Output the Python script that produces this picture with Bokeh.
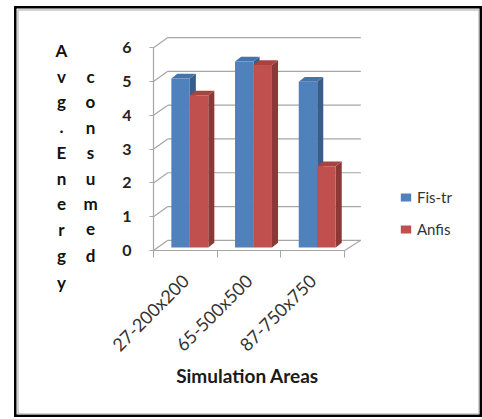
import math
from bokeh.plotting import figure
from bokeh.models import FixedTicker, Label, Legend, LegendItem
from bokeh.embed import file_html
from bokeh.resources import INLINE

categories = ["27-200x200", "65-500x500", "87-750x750"]
fis_tr = [5.0, 5.5, 4.9]
anfis = [4.5, 5.4, 2.4]
series_names = ["Fis-tr", "Anfis"]
y_ticks = [0, 1, 2, 3, 4, 5, 6]

front_colors = ["#4F81BD", "#C0504D"]
side_colors = ["#385D8A", "#8C3836"]
top_colors = ["#4573AE", "#A9433F"]

FONT = "Lato"
n = len(categories)
DX, DY = 0.225, 0.30        # wall depth (data units)
BDX, BDY = 0.095, 0.14      # bar depth
BW = 0.29                   # bar width
B0 = 0.09                   # bar base

# page-pixel layout helpers (frame spans the whole canvas)
X0, SX = 153, 63.7   # page x of data x=0, px per unit
Y0, SY = 250, 33.8   # page y of data y=0, px per unit
FL, FR, FT, FB = 14, 482, 6, 417   # canvas/frame edges on page
W, H = FR - FL, FB - FT


def px_to_x(px):
    return (px - X0) / SX


def py_to_y(py):
    return (Y0 - py) / SY


p = figure(width=W, height=H,
           x_range=(px_to_x(FL), px_to_x(FR)), y_range=(py_to_y(FB), py_to_y(FT)),
           output_backend="svg", toolbar_location=None, title=None,
           min_border_left=0, min_border_right=0, min_border_top=0,
           min_border_bottom=0)
p.styles = {"margin-left": "%dpx" % FL, "margin-top": "%dpx" % FT}
p.xgrid.visible = False
p.ygrid.visible = False
p.outline_line_color = "#000000"
p.outline_line_width = 4
p.background_fill_color = "white"
p.border_fill_color = "white"

# inner thin grey frame line (decoration)
ix0, ix1 = px_to_x(FL + 3.5), px_to_x(FR - 3.5)
iy0, iy1 = py_to_y(FB - 3.5), py_to_y(FT + 3.5)
p.line(x=[ix0, ix1, ix1, ix0, ix0], y=[iy0, iy0, iy1, iy1, iy0],
       line_color="#a8a8a8", line_width=1)

grid_col = "#a6a6a6"
# back wall gridlines
p.multi_line(xs=[[DX, n + DX + 0.03] for k in y_ticks],
             ys=[[k + DY, k + DY] for k in y_ticks],
             line_color=grid_col, line_width=1.2)
# side wall diagonals
p.multi_line(xs=[[0, DX] for k in y_ticks],
             ys=[[k, k + DY] for k in y_ticks],
             line_color=grid_col, line_width=1.2)
# floor right edge
p.line(x=[n, n + DX + 0.03], y=[0, DY], line_color=grid_col, line_width=1.2)

series = [fis_tr, anfis]
front_renderers = []
for s, vals in enumerate(series):
    lefts = [i + 0.28 + s * BW for i in range(n)]
    rights = [l + BW for l in lefts]
    tops = [B0 + v for v in vals]
    p.patches(xs=[[r, r + BDX, r + BDX, r] for r in rights],
              ys=[[B0, B0 + BDY, t + BDY, t] for t in tops],
              fill_color=side_colors[s], line_color=None)
    p.patches(xs=[[l, r, r + BDX, l + BDX] for l, r in zip(lefts, rights)],
              ys=[[t, t, t + BDY, t + BDY] for t in tops],
              fill_color=top_colors[s], line_color=None)
    r = p.quad(left=lefts, right=rights, bottom=[B0] * n, top=tops,
               fill_color=front_colors[s], line_color=None)
    front_renderers.append(r)

# axes (fixed inside the frame at the data origin)
yax = p.yaxis[0]
yax.fixed_location = 0
yax.ticker = FixedTicker(ticks=y_ticks)
yax.bounds = (0, 6)
yax.axis_line_color = grid_col
yax.axis_line_width = 1.2
yax.major_tick_line_color = grid_col
yax.major_tick_out = 4
yax.major_tick_in = 0
yax.minor_tick_line_color = None
yax.major_label_standoff = 18
yax.major_label_text_font = FONT
yax.major_label_text_font_size = "16px"
yax.major_label_text_font_style = "bold"
yax.major_label_text_color = "#222222"

xax = p.xaxis[0]
xax.fixed_location = 0
xax.ticker = FixedTicker(ticks=[i + 0.5 for i in range(n)],
                         minor_ticks=list(range(n + 1)))
xax.bounds = (0, n)
xax.axis_line_color = grid_col
xax.axis_line_width = 1.2
xax.major_tick_line_color = None
xax.minor_tick_line_color = grid_col
xax.minor_tick_out = 7
xax.minor_tick_in = 0
xax.major_label_overrides = {i + 0.5: c for i, c in enumerate(categories)}
xax.major_label_orientation = math.pi / 4
xax.major_label_standoff = 20
xax.major_label_text_font = FONT
xax.major_label_text_font_size = "18px"
xax.major_label_text_color = "#333333"

# vertical y-axis title (stacked letters)
col1 = list("Avg.Energy")
col2 = list("consumed")
row_y = [50, 75.5, 101, 126.5, 152, 178, 203, 228.5, 255, 282]
for ch, py in zip(col1, row_y):
    p.add_layout(Label(x=px_to_x(61), y=py_to_y(py), text=ch, text_align="center",
                       text_baseline="middle", text_font=FONT, text_font_style="bold",
                       text_font_size="17px", text_color="#111111"))
for ch, py in zip(col2, row_y[1:]):
    p.add_layout(Label(x=px_to_x(90), y=py_to_y(py), text=ch, text_align="center",
                       text_baseline="middle", text_font=FONT, text_font_style="bold",
                       text_font_size="17px", text_color="#111111"))

p.add_layout(Label(x=px_to_x(247), y=py_to_y(375), text="Simulation Areas",
                   text_align="center", text_baseline="middle", text_font=FONT,
                   text_font_style="bold", text_font_size="19px", text_color="#1a1a1a"))

legend = Legend(items=[LegendItem(label=series_names[k], renderers=[front_renderers[k]])
                       for k in range(2)],
                location=(399 - FL, FB - 238), orientation="vertical",
                glyph_width=13, glyph_height=10, label_standoff=5, spacing=14,
                padding=0, margin=0, border_line_color=None,
                background_fill_color=None, label_text_font=FONT,
                label_text_font_size="15px", label_text_color="#333333")
p.add_layout(legend, "center")

open("out.html", "w").write(file_html(p, INLINE))
